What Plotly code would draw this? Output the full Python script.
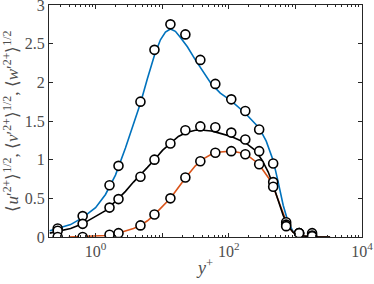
import plotly.graph_objects as go

# ---- measured (circles) ----
x_pts = [0.27, 0.64, 1.62, 2.21, 4.72, 7.66, 13.3, 22.3, 37.4, 62.8, 109, 177, 286, 464, 727, 1137, 1782]
u_pts = [0.11, 0.27, 0.67, 0.92, 1.75, 2.42, 2.75, 2.62, 2.29, 1.98, 1.78, 1.63, 1.39, 0.95, 0.19, 0.05, 0.05]
w_pts = [0.08, 0.17, 0.38, 0.49, 0.78, 1.00, 1.21, 1.38, 1.43, 1.42, 1.35, 1.26, 1.11, 0.71, 0.16, 0.05, 0.02]
v_pts = [0.00, 0.00, 0.03, 0.05, 0.15, 0.29, 0.50, 0.77, 0.98, 1.09, 1.11, 1.07, 0.94, 0.65, 0.14, 0.05, 0.01]

# ---- DNS curves ----
x_u = [0.205, 0.27, 0.422, 0.639, 1.0, 1.41, 1.99, 2.81, 3.71, 4.72, 6.01, 7.66, 9.42, 11.2, 13.3, 15.8,
       18.8, 23.9, 31.5, 41.5, 54.7, 74.6, 109, 177, 286, 365, 464, 552, 656, 778, 925, 1178, 1663, 3316]
u_line = [0.08, 0.11, 0.16, 0.25, 0.38, 0.55, 0.80, 1.15, 1.46, 1.73, 2.05, 2.35, 2.55, 2.65, 2.69, 2.66,
          2.58, 2.46, 2.29, 2.13, 1.98, 1.86, 1.76, 1.60, 1.41, 1.24, 0.99, 0.71, 0.41, 0.19, 0.07, 0.02, 0.003, 0.0]

x_w = [0.205, 0.27, 0.422, 0.639, 1.0, 1.41, 1.99, 2.81, 3.71, 4.72, 6.01, 7.66, 10.1, 13.3, 17.5, 23.1,
       31.5, 41.5, 54.7, 74.6, 109, 177, 250, 318, 391, 464, 552, 656, 778, 925, 1178, 1663, 3316]
w_line = [0.05, 0.07, 0.11, 0.17, 0.26, 0.34, 0.46, 0.59, 0.71, 0.80, 0.90, 1.00, 1.12, 1.21, 1.30, 1.35,
          1.38, 1.38, 1.37, 1.34, 1.30, 1.22, 1.12, 0.99, 0.84, 0.67, 0.47, 0.28, 0.14, 0.06, 0.02, 0.003, 0.0]

x_v = [0.394, 0.639, 1.0, 1.41, 1.99, 2.81, 3.71, 4.72, 6.01, 7.66, 10.1, 13.3, 17.5, 23.1, 31.5, 41.5,
       54.7, 74.6, 109, 149, 203, 258, 318, 391, 464, 552, 656, 778, 925, 1178, 1663, 3316]
v_line = [0.0, 0.006, 0.013, 0.02, 0.04, 0.08, 0.11, 0.15, 0.21, 0.29, 0.39, 0.50, 0.64, 0.78, 0.92, 1.01,
          1.07, 1.10, 1.11, 1.09, 1.04, 0.97, 0.88, 0.77, 0.65, 0.48, 0.30, 0.14, 0.06, 0.02, 0.004, 0.0]

x_tickvals = [1, 10, 100, 1000, 10000]
x_ticktext = ["10<sup>0</sup>", "", "10<sup>2</sup>", "", "10<sup>4</sup>"]

BLUE = "#0072BD"
RED = "#D95319"
FONT = "Liberation Serif"
AX = "#262626"
TICKC = "#4d4d4d"

fig = go.Figure()
fig.add_trace(go.Scatter(x=x_u, y=u_line, mode="lines", line=dict(color=BLUE, width=1.6), showlegend=False))
fig.add_trace(go.Scatter(x=x_v, y=v_line, mode="lines", line=dict(color=RED, width=1.6), showlegend=False))
fig.add_trace(go.Scatter(x=x_w, y=w_line, mode="lines", line=dict(color="black", width=1.6), showlegend=False))
for ys in (u_pts, w_pts, v_pts):
    fig.add_trace(go.Scatter(x=x_pts, y=ys, mode="markers", showlegend=False,
                             marker=dict(symbol="circle", size=9, color="white",
                                         line=dict(color="black", width=1.6))))

minor_vals = [m * 10 ** d for d in range(-1, 4) for m in range(2, 10)]

fig.update_layout(
    width=374, height=284,
    margin=dict(l=49, r=12, t=5, b=47, autoexpand=False),
    paper_bgcolor="white", plot_bgcolor="white",
    font=dict(family=FONT, size=16, color=AX),
    xaxis=dict(
        type="log", range=[-0.699, 4], automargin=False,
        tickmode="array", tickvals=x_tickvals, ticktext=x_ticktext,
        ticks="inside", ticklen=4, tickcolor=AX, tickwidth=1,
        showline=True, linecolor=AX, linewidth=1, mirror="ticks",
        showgrid=False, zeroline=False, ticklabeloverflow="allow",
        minor=dict(tickmode="array", tickvals=minor_vals, ticks="inside", ticklen=2,
                   tickcolor=AX, showgrid=False),
        tickfont=dict(family=FONT, size=16, color=TICKC),
        title=dict(text="<i>y</i><sup>+</sup>", font=dict(family=FONT, size=18, color=TICKC), standoff=2),
    ),
    yaxis=dict(
        range=[0, 3], dtick=0.5, tick0=0, automargin=False,
        ticks="inside", ticklen=4, tickcolor=AX, tickwidth=1,
        showline=True, linecolor=AX, linewidth=1, mirror="ticks",
        showgrid=False, zeroline=False, ticklabeloverflow="allow",
        tickfont=dict(family=FONT, size=16, color=TICKC),
        title=dict(text="⟨<i>u</i>′<sup>2+</sup>⟩<sup>1/2</sup>, ⟨<i>v</i>′<sup>2+</sup>⟩<sup>1/2</sup>, ⟨<i>w</i>′<sup>2+</sup>⟩<sup>1/2</sup>",
                   font=dict(family=FONT, size=17, color=TICKC), standoff=3),
    ),
)

fig.write_html("out.html", config={"displayModeBar": False},
               post_script="document.body.style.margin='0';document.body.style.overflow='hidden';")
